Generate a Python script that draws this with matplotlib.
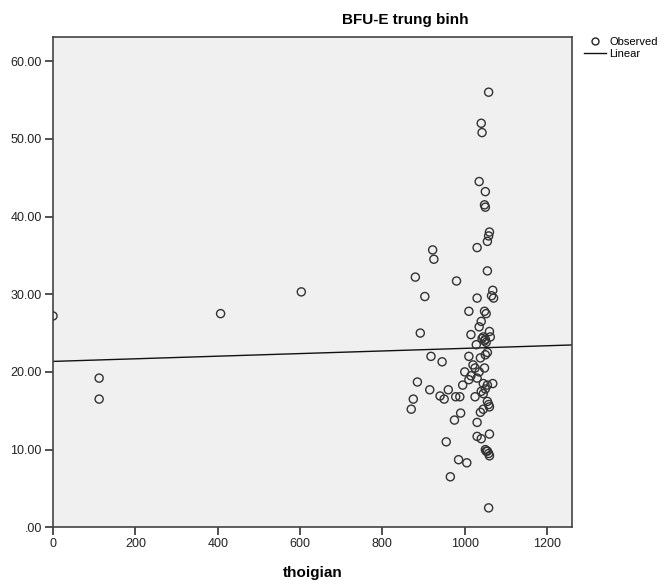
import numpy as np
import matplotlib as mpl
import matplotlib.pyplot as plt
from matplotlib.lines import Line2D

mpl.rcParams['font.family'] = ['Liberation Sans', 'DejaVu Sans']

# observed points (thoigian, BFU-E trung binh)
thoigian = [0, 112, 112, 407, 603,
            1058, 1040, 1042, 1035, 1050, 1048, 1050, 1060, 1058, 1055,
            1030, 922, 925, 880, 980, 1055, 1068, 1065, 1070, 903,
            1030, 1048, 1052, 1010, 1040, 1035, 1060, 892, 1015, 1045,
            1048, 1050, 1052, 1042, 1062, 1028, 1055, 1050, 918, 1010,
            945, 1038, 1020, 1048, 1000, 1015, 1025, 1035, 1030, 1010,
            995, 885, 1045, 1055, 1068, 915, 960, 1040, 1045, 1050,
            1025, 978, 988, 950, 940, 875, 870, 1055, 1058, 1060,
            1045, 1038, 990, 975, 1030, 1060, 1030, 1040, 955, 1050,
            1052, 1058, 1060, 1055, 985, 1005, 965, 1058]
bfue = [27.2, 19.2, 16.5, 27.5, 30.3,
        56.0, 52.0, 50.8, 44.5, 43.2, 41.5, 41.2, 38.0, 37.5, 36.8,
        36.0, 35.7, 34.5, 32.2, 31.7, 33.0, 30.5, 29.8, 29.5, 29.7,
        29.5, 27.8, 27.5, 27.8, 26.5, 25.8, 25.2, 25.0, 24.8, 24.5,
        24.0, 24.2, 23.8, 24.3, 24.5, 23.5, 22.5, 22.2, 22.0, 22.0,
        21.3, 21.8, 20.9, 20.5, 20.0, 19.5, 20.5, 20.0, 19.2, 19.0,
        18.3, 18.7, 18.5, 18.3, 18.5, 17.7, 17.7, 17.5, 17.2, 17.8,
        16.8, 16.8, 16.8, 16.5, 16.9, 16.5, 15.2, 16.2, 15.8, 15.5,
        15.2, 14.8, 14.7, 13.8, 13.5, 12.0, 11.7, 11.4, 11.0, 10.0,
        9.8, 9.5, 9.2, 9.8, 8.7, 8.3, 6.5, 2.5]

# linear fit shown in the chart
line_intercept = 21.35
line_slope = 0.00168

xticks = [0, 200, 400, 600, 800, 1000, 1200]
yticks = [0, 10, 20, 30, 40, 50, 60]
xlim = (0, 1260)
ylim = (0, 63.1)

fig = plt.figure(figsize=(6.72, 5.84), dpi=100)
ax = fig.add_axes([0.0789, 0.0971, 0.772, 0.8395])
ax.set_facecolor('#F0F0F0')

ax.scatter(thoigian, bfue, s=34, facecolors='none', edgecolors='#333333',
           linewidths=1.0, zorder=3)
xx = np.array(xlim)
ax.plot(xx, line_intercept + line_slope * xx, color='#111111', lw=1.0, zorder=2)

ax.set_xlim(*xlim)
ax.set_ylim(*ylim)
ax.set_xticks(xticks)
ax.set_yticks(yticks)
ax.set_yticklabels(['.00' if v == 0 else '%.2f' % v for v in yticks])
ax.tick_params(direction='out', length=6, width=1.2, color='#333333',
               labelsize=9, labelcolor='#222222', pad=2)
for s in ax.spines.values():
    s.set_color('#444444')
    s.set_linewidth(1.2)

fig.text(312.5 / 672, 1 - 573 / 584, 'thoigian', ha='center', va='center',
         fontsize=11, fontweight='bold')
fig.text(405 / 672, 1 - 20 / 584, 'BFU-E trung binh', ha='center', va='center',
         fontsize=11, fontweight='bold')

handles = [Line2D([], [], marker='o', ls='none', mfc='none', mec='#222222', ms=5),
           Line2D([], [], color='#111111', lw=1.0)]
fig.legend(handles, ['Observed', 'Linear'], loc='upper left',
           bbox_to_anchor=(584 / 672, 1 - 37 / 584), frameon=False,
           fontsize=8, handlelength=2.0, handletextpad=0.3,
           labelspacing=0.15, borderaxespad=0, borderpad=0)

fig.savefig('out.png', dpi=100)
